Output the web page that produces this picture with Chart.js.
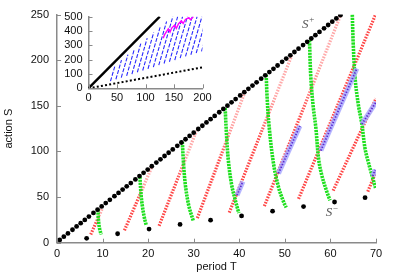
<!DOCTYPE html>
<html><head><meta charset="utf-8">
<script src="https://cdn.jsdelivr.net/npm/chart.js@4.4.1/dist/chart.umd.min.js"></script>
<style>
html,body{margin:0;padding:0;background:#fff;}
#wrap{position:relative;width:395px;height:276px;overflow:hidden;}
#main{position:absolute;left:0;top:0;}
#inset{position:absolute;left:50px;top:4px;}
</style></head><body>
<div id="wrap">
<canvas id="main" width="395" height="276"></canvas>
<canvas id="inset" width="170" height="104"></canvas>
</div>
<script>
// ---------- main chart data ----------
const periodPlus = [0.6,1.5,2.4,3.4,4.3,5.2,6.1,7.0,8.0,8.9,9.8,10.7,11.6,12.6,13.5,14.4,15.3,16.2,17.2,18.1,19.0,19.9,20.8,21.8,22.7,23.6,24.5,25.4,26.4,27.3,28.2,29.1,30.0,31.0,31.9,32.8,33.7,34.6,35.6,36.5,37.4,38.3,39.2,40.2,41.1,42.0,42.9,43.8,44.8,45.7,46.6,47.5,48.4,49.4,50.3,51.2,52.1,53.0,54.0,54.9,55.8,56.7,57.6,58.6,59.5,60.4,61.3,62.2];
const actionPlus = [3.0,6.6,10.2,14.2,17.8,21.4,25.0,28.6,32.6,36.2,39.8,43.4,47.0,51.0,54.6,58.2,61.8,65.4,69.4,73.0,76.6,80.2,83.8,87.8,91.4,95.0,98.6,102.2,106.2,109.8,113.4,117.0,120.6,124.6,128.2,131.8,135.4,139.0,143.0,146.6,150.2,153.8,157.4,161.4,165.0,168.6,172.2,175.8,179.8,183.4,187.0,190.6,194.2,198.2,201.8,205.4,209.0,212.6,216.6,220.2,223.8,227.4,231.0,235.0,238.6,242.2,245.8,249.4];
const periodMinus = [6.5,13.3,20.2,27.0,33.7,40.5,47.3,54.1,60.9,67.6];
const actionMinus = [4.8,9.8,14.9,20.0,24.7,29.4,34.5,39.6,44.6,49.4];

const redStartT = [7.4,14.8,22.4,30.8,37.8,45.5,53.0,60.6,68.2];
const redStartS = [9,13.5,18.5,27,33,40,48,57,56];
const redEndT   = [9.9,20.9,30.6,41.3,51.5,62.2,69.9,70,70];
const redEndS   = [37,84,122.5,166,205,249,250,158,78];

const greenT = [
  [9.0,9.05,9.2,9.4,9.7],
  [18.2,18.4,18.7,19.2,19.6],
  [27.5,27.8,28.2,28.9,29.9],
  [36.9,37.2,37.6,38.3,39.1,39.9],
  [45.9,46.1,46.5,47.5,48.6,49.7,50.3],
  [55.4,55.7,56.2,56.8,57.4,58.1,59.2,59.9],
  [64.8,65.0,65.4,66.1,66.9,67.6,68.3,69.1,69.9]
];
const greenS = [
  [36.5,28,20,14,9],
  [72.5,55.7,41.2,26.7,19],
  [110.5,84,62,41,24],
  [147.5,118,90,64,47,32.5],
  [184,160,130,87,61,45,38.5],
  [222,181,150,126,92,74,56,46.5],
  [250,218,181,152,130,103,88.5,74,60]
];

const blueStartT = [39.5,48.6,57.9,66.9,69.3];
const blueStartS = [52,76,101,130,73];
const blueEndT   = [40.8,53.3,65.8,70,69.8];
const blueEndS   = [67,128,191,154,80];

const xTicks = [0,10,20,30,40,50,60,70];
const yTicks = [0,50,100,150,200,250];

const labelT = [54.9,60.1];
const labelS = [240.7,33.9];
const labelSup = ['+','\u2212'];

// ---------- inset data ----------
const insetPlusT = [0,125];
const insetPlusS = [0,500];
const insetMinusT = [0,200];
const insetMinusS = [0,146];
const streakLowT  = [38.6,48.1,57.5,66.9,76.2,85.7,95.1,104.4,113.8,123.3,132.6,142.0,151.4,160.8,170.2,179.6,189.0,198.3];
const streakLowS  = [50,63,75,87,99,112,124,136,148,161,173,185,197,210,222,234,246,258];
const streakHighT = [46.5,57.9,69.2,80.4,91.8,103.0,114.4,125.7,137.0,148.0,156.5,165.0,173.5,182.0,190.5,199.0,207.5,216.0];
const streakHighS = [158,197,235,273,312,350,389,427,466,500,500,500,500,500,500,500,500,500];
const magentaT = [131,134,140,143,146,151,154,158,163,166,170,176,179,184];
const magentaS = [350,378,415,392,420,440,418,450,470,452,480,492,478,500];
const xTicksIn = [0,50,100,150,200];
const yTicksIn = [0,100,200,300,400,500];

// ---------- styles ----------
const AXIS = '#8a8a8a';
const FONT = 'Liberation Sans';
const RED_LOW = 'rgba(255,50,50,0.9)';
const RED_HIGH = 'rgba(255,160,160,0.9)';
const redFadesToPink = [true,true,true,true,true,true,false,false,false];

const inTicks = {
  id: 'inTicks',
  afterDraw(chart) {
    const {ctx, chartArea: a, scales: {x, y}} = chart;
    ctx.save();
    ctx.strokeStyle = AXIS; ctx.lineWidth = 1;
    x.ticks.forEach(t => { const p = Math.round(x.getPixelForValue(t.value)) + 0.5;
      ctx.beginPath(); ctx.moveTo(p, a.bottom); ctx.lineTo(p, a.bottom - 4); ctx.stroke(); });
    y.ticks.forEach(t => { const p = Math.round(y.getPixelForValue(t.value)) + 0.5;
      ctx.beginPath(); ctx.moveTo(a.left, p); ctx.lineTo(a.left + 4, p); ctx.stroke(); });
    ctx.restore();
  }
};
const sLabels = {
  id: 'sLabels',
  afterDatasetsDraw(chart) {
    const {ctx, scales: {x, y}} = chart;
    ctx.save();
    ctx.fillStyle = '#555';
    ctx.textBaseline = 'middle'; ctx.textAlign = 'center';
    labelT.forEach((t, i) => {
      const cx = x.getPixelForValue(t), cy = y.getPixelForValue(labelS[i]);
      ctx.font = 'italic 13px "Liberation Serif"';
      ctx.fillText('S', cx - 2, cy + 1);
      ctx.font = '9px "Liberation Serif"';
      ctx.fillText(labelSup[i], cx + 4.5, cy - 3);
    });
    ctx.restore();
  }
};
const pts = (xs, ys) => xs.map((v, i) => ({x: v, y: ys[i]}));

// ---------- main datasets ----------
const ds = [];
ds.push({type:'scatter', data: pts(periodPlus, actionPlus), pointRadius: 2.4, pointBackgroundColor:'#000', pointBorderWidth:0, order:0});
ds.push({type:'scatter', data: pts(periodMinus, actionMinus), pointRadius: 2.4, pointBackgroundColor:'#000', pointBorderWidth:0, order:0});
greenT.forEach((g, i) => ds.push({type:'line', data: pts(g, greenS[i]), borderColor:'#1fe01f', borderWidth:3.6,
  borderDash:[2.2,0.9], tension:0.35, pointRadius:0, order:2, clip:0}));
blueStartT.forEach((t, i) => {
  const d = [{x:t, y:blueStartS[i]}, {x:blueEndT[i], y:blueEndS[i]}];
  ds.push({type:'line', data:d, borderColor:'rgba(168,168,255,0.85)', borderWidth:5, pointRadius:0, order:1, clip:0});
  ds.push({type:'line', data:d, borderColor:'#5a2ad0', borderWidth:1.8, borderDash:[1.3,1.7], pointRadius:0, order:0.5, clip:0});
});
redStartT.forEach((t, i) => ds.push({type:'line', data:[{x:t, y:redStartS[i]}, {x:redEndT[i], y:redEndS[i]}],
  borderColor(ctx) {
    const c = ctx.chart;
    if (!c.chartArea || !redFadesToPink[i]) return RED_LOW;
    const xs = c.scales.x, ys = c.scales.y;
    const g = c.ctx.createLinearGradient(xs.getPixelForValue(t), ys.getPixelForValue(redStartS[i]),
      xs.getPixelForValue(redEndT[i]), ys.getPixelForValue(redEndS[i]));
    g.addColorStop(0, RED_LOW); g.addColorStop(0.45, RED_LOW); g.addColorStop(0.75, RED_HIGH); g.addColorStop(1, RED_HIGH);
    return g;
  },
  borderWidth:3.2, borderDash:[1.6,1.3], pointRadius:0, order:3, clip:0}));

new Chart(document.getElementById('main'), {
  type: 'scatter',
  data: {datasets: ds},
  plugins: [inTicks, sLabels],
  options: {
    responsive:false, animation:false, events:[],
    layout:{padding:{left:0, right:19, top:14, bottom:0}},
    plugins:{legend:{display:false}, tooltip:{enabled:false}},
    scales:{
      x:{type:'linear', min:0, max:70,
         afterBuildTicks(s){ s.ticks = xTicks.map(v => ({value:v})); },
         ticks:{font:{family:FONT, size:11}, color:'#111', padding:5, maxRotation:0, autoSkip:false},
         grid:{display:false, drawTicks:false}, border:{display:true, color:AXIS, width:1.5},
         title:{display:true, text:'period T', font:{family:FONT, size:11}, color:'#111', padding:{top:0, bottom:2}},
         afterFit(s){ s.height = 33.3; }},
      y:{type:'linear', min:0, max:250,
         afterBuildTicks(s){ s.ticks = yTicks.map(v => ({value:v})); },
         ticks:{font:{family:FONT, size:11}, color:'#111', padding:8, autoSkip:false},
         grid:{display:false, drawTicks:false}, border:{display:true, color:AXIS, width:1.5},
         title:{display:true, text:'action S', font:{family:FONT, size:11}, color:'#111', padding:{top:2, bottom:0}},
         afterFit(s){ s.width = 57; }}
    }
  }
});

// ---------- inset ----------
const ids = [];
ids.push({type:'line', data: pts(insetPlusT, insetPlusS), borderColor:'#000', borderWidth:2.4, pointRadius:0, clip:0, order:0});
ids.push({type:'line', data: pts(insetMinusT, insetMinusS), borderColor:'#000', borderWidth:2, borderDash:[2,2.2], pointRadius:0, clip:0, order:0});
streakLowT.forEach((t, i) => ids.push({type:'line', data:[{x:t, y:streakLowS[i]}, {x:streakHighT[i], y:streakHighS[i]}],
  borderColor:'#2b2bff', borderWidth:1.1, borderDash:[4,1.6], pointRadius:0, clip:0, order:2}));
ids.push({type:'line', data: pts(magentaT, magentaS), borderColor:'#ff00ff', borderWidth:1.4, pointRadius:0, clip:0, order:1});
new Chart(document.getElementById('inset'), {
  type:'scatter',
  data:{datasets: ids},
  plugins:[inTicks],
  options:{
    responsive:false, animation:false, events:[],
    layout:{padding:{left:0, right:17.5, top:10, bottom:0}},
    plugins:{legend:{display:false}, tooltip:{enabled:false}},
    scales:{
      x:{type:'linear', min:0, max:200,
         afterBuildTicks(s){ s.ticks = xTicksIn.map(v => ({value:v})); },
         ticks:{font:{family:FONT, size:11}, color:'#111', padding:3, maxRotation:0, autoSkip:false},
         grid:{display:false, drawTicks:false}, border:{display:true, color:AXIS, width:1.5},
         afterFit(s){ s.height = 19.7; }},
      y:{type:'linear', min:0, max:500,
         afterBuildTicks(s){ s.ticks = yTicksIn.map(v => ({value:v})); },
         ticks:{font:{family:FONT, size:11}, color:'#111', padding:6, autoSkip:false},
         grid:{display:false, drawTicks:false}, border:{display:true, color:AXIS, width:1.5},
         afterFit(s){ s.width = 38.5; }}
    }
  }
});
</script>
</body></html>
